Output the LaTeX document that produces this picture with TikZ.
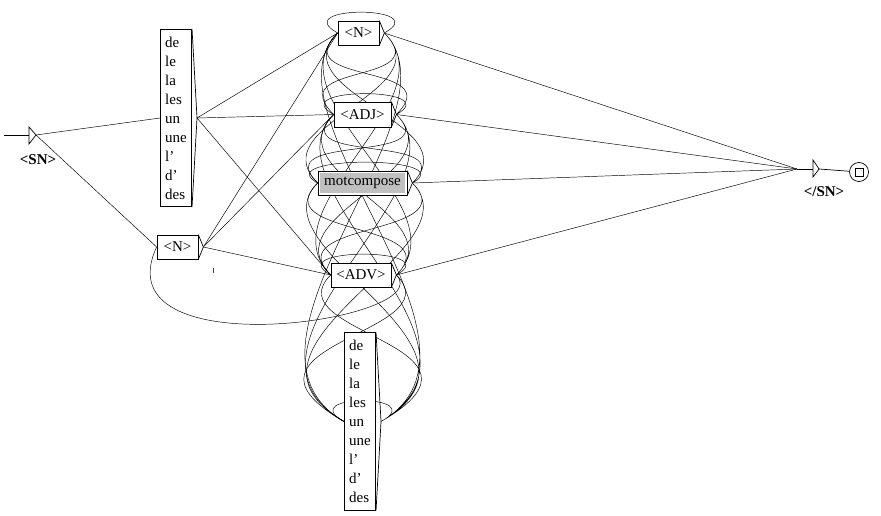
\documentclass[tikz,border=0pt]{standalone}
\usepackage{fontspec}
\setmainfont{Liberation Serif}
\usetikzlibrary{calc,backgrounds}
\definecolor{mcgrey}{RGB}{192,192,192}

\begin{document}
\begin{tikzpicture}[x=0.03cm, y=-0.03cm, line width=0.6pt,
  every node/.style={font=\fontsize{12.8}{16.2}\selectfont, inner sep=0pt},
  box/.style={draw, fill=white, rectangle, minimum height=0.72cm},
  listbox/.style={draw, fill=white, rectangle, align=left, minimum width=0.94cm, minimum height=5.33cm},
  tag/.style={font=\fontsize{12.8}{15}\selectfont\bfseries},
  godown/.style={out=-45, in=135, distance=#1cm},
  goup/.style={out=45, in=225, distance=#1cm},
  intodet/.style={out=-45, in=150, out distance=#1cm, in distance=4.6cm},
  fromdet/.style={out=30, in=225, out distance=4.6cm, in distance=#1cm},
  selfloop/.style={out=29, in=151, distance=1.72cm}]
\useasboundingbox (0,0) rectangle (881,516);

\node[listbox] (det1) at (176,118) {de\\le\\la\\les\\un\\une\\l'\\d'\\des};
\node[box, minimum width=1.23cm] (n1) at (177.5,247) {<N>};
\node[box, minimum width=1.23cm] (n2) at (358.5,33) {<N>};
\node[box, minimum width=1.71cm, minimum height=0.75cm] (adj) at (362.5,114.5) {<ADJ>};
\node[box, minimum width=2.67cm, path picture={\fill[mcgrey]
  ([shift={(0.06cm,-0.06cm)}]path picture bounding box.north west) rectangle
  ([shift={(-0.06cm,0.06cm)}]path picture bounding box.south east);}] (mc) at (362.5,183) {motcompose};
\node[box, minimum width=1.8cm] (adv) at (361,275) {<ADV>};
\node[listbox] (det2) at (360,421.5) {de\\le\\la\\les\\un\\une\\l'\\d'\\des};

\foreach \b in {det1,n1,n2,adj,mc,adv,det2}
  \draw (\b.north east) -- ([xshift=0.15cm]\b.east) coordinate (\b-out) -- (\b.south east);

\coordinate (start) at (4,135);
\coordinate (init) at (36,135);
\draw (start) -- (29,135);
\draw (29,127) -- (init) -- (29,144) -- cycle;
\node[tag] (opentag) at (38,160) {<SN>};

\coordinate (closein) at (797,169);
\coordinate (close) at (813,169);
\node[draw, circle, minimum size=0.57cm] (fin) at (859,172) {};
\node[draw, rectangle, minimum size=0.24cm] (finsq) at (fin) {};
\draw (closein) -- (close);
\draw (close) ++(0,-9) -- (819,169) coordinate (closeout) -- (813,177) -- cycle;
\draw (closeout) -- (fin);
\node[tag] (closetag) at (824,192) {</SN>};

\begin{pgfonlayer}{background}
\draw (init) -- (det1.west);
\draw (init) -- (n1.west);
\draw (det1-out) -- (n2.west);
\draw (det1-out) -- (adj.west);
\draw (det1-out) -- (adv.west);
\draw (n1-out) -- (n2.west);
\draw (n1-out) -- (adj.west);
\draw (n1-out) -- (adv.west);

\draw (n2-out) to[selfloop] (n2.west) (n2-out) to[godown=2.23] (adj.west) (n2-out) to[godown=2.5] (mc.west)
  (n2-out) to[godown=2.87] (adv.west) (n2-out) to[intodet=3.45] (det2.west);
\draw (adj-out) to[goup=2.23] (n2.west) (adj-out) to[selfloop] (adj.west) (adj-out) to[godown=2.17] (mc.west)
  (adj-out) to[godown=2.54] (adv.west) (adj-out) to[intodet=3.13] (det2.west);
\draw (mc-out) to[goup=2.5] (n2.west) (mc-out) to[goup=2.17] (adj.west) (mc-out) to[selfloop] (mc.west)
  (mc-out) to[godown=2.27] (adv.west) (mc-out) to[intodet=2.85] (det2.west);
\draw (adv-out) to[goup=2.87] (n2.west) (adv-out) to[goup=2.54] (adj.west) (adv-out) to[goup=2.27] (mc.west)
  (adv-out) to[selfloop] (adv.west) (adv-out) to[intodet=2.48] (det2.west);
\draw (det2-out) to[fromdet=3.45] (n2.west) (det2-out) to[fromdet=3.13] (adj.west) (det2-out) to[fromdet=2.85] (mc.west)
  (det2-out) to[fromdet=2.48] (adv.west) (det2-out) to[selfloop] (det2.west);
\draw (adv-out) to[out=-46, in=245, out distance=1.89cm, in distance=4.07cm] (n1.west);

\draw (n2-out) -- (closein);
\draw (adj-out) -- (closein);
\draw (mc-out) -- (closein);
\draw (adv-out) -- (closein);
\end{pgfonlayer}

\draw[red!80!black] (213,268) -- (213,273);
\end{tikzpicture}
\end{document}
